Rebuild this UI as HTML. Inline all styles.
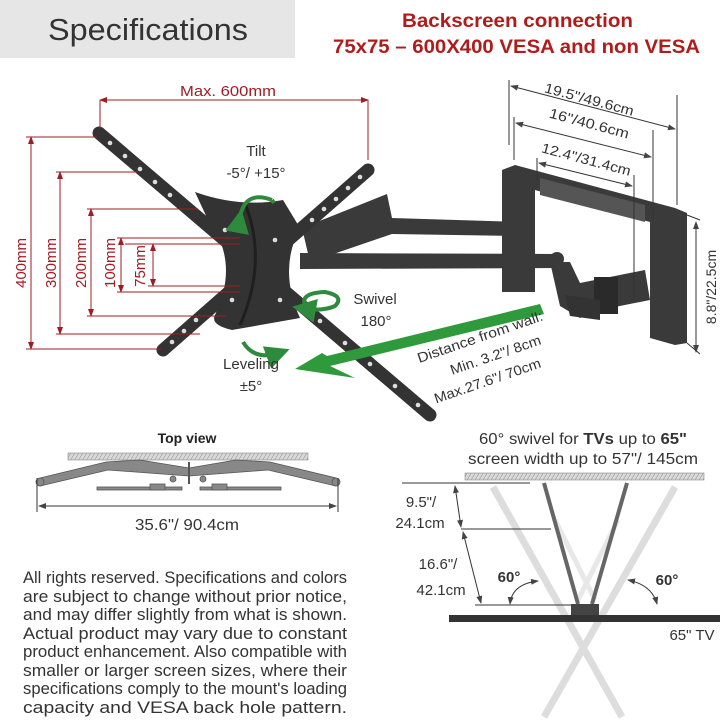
<!DOCTYPE html>
<html><head><meta charset="utf-8"><style>
html,body{margin:0;padding:0;background:#fff;}
svg{display:block;}
text{font-family:"Liberation Sans",sans-serif;}
</style></head><body>
<svg width="720" height="722" viewBox="0 0 720 722" xmlns="http://www.w3.org/2000/svg">
<defs>
<pattern id="hatch" width="4" height="8" patternUnits="userSpaceOnUse" patternTransform="skewX(-30)">
<rect width="4" height="8" fill="#d8d8d8"/><line x1="0" y1="0" x2="0" y2="8" stroke="#888" stroke-width="1"/>
</pattern>
<marker id="ar" markerWidth="8" markerHeight="8" refX="7" refY="4" orient="auto-start-reverse"><path d="M0,1 L8,4 L0,7 z" fill="#a01c24"/></marker>
<marker id="ag" markerWidth="8" markerHeight="8" refX="7" refY="4" orient="auto-start-reverse"><path d="M0,1 L8,4 L0,7 z" fill="#444"/></marker>
<marker id="gr" markerWidth="6" markerHeight="6" refX="4" refY="3" orient="auto"><path d="M0,0 L6,3 L0,6 z" fill="#2e8a3c"/></marker>
</defs>
<rect x="0" y="0" width="295" height="58" fill="#e6e6e6"/>
<text x="48" y="40" font-size="31" fill="#333" textLength="200" lengthAdjust="spacingAndGlyphs">Specifications</text>
<text x="402" y="27" font-size="19" fill="#b01c1c" font-weight="bold" textLength="231" lengthAdjust="spacingAndGlyphs">Backscreen connection</text>
<text x="333" y="53" font-size="19" fill="#b01c1c" font-weight="bold" textLength="367" lengthAdjust="spacingAndGlyphs">75x75 – 600X400 VESA and non VESA</text>

<!-- arm assembly -->
<g fill="#3a3a3a">
<polygon points="502,170 515,165 675,208 687,213 687,343 675,345 650,338 650,222 535,190 535,292 502,292"/>
<polygon points="540,178 645,205 645,222 540,195" fill="#555"/>
<polygon points="302,228 387,194 392,218 521,222 521,236 392,234 310,262"/>
<polygon points="300,253 558,254 562,268 300,269"/>
<circle cx="557" cy="259" r="7"/>
<polygon points="550,262 570,262 580,283 645,270 650,300 600,310 580,318 560,306"/>
<rect x="594" y="277" width="24" height="37" fill="#2a2a2a"/>
<polygon points="565,295 600,300 600,320 570,316" fill="#333"/>
</g>
<!-- plate -->
<g stroke="#333" stroke-linecap="round">
<line x1="99" y1="133" x2="430" y2="415" stroke-width="13"/>
<line x1="368" y1="170" x2="163" y2="350" stroke-width="13"/>
</g>
<path d="M195,192 Q240,208 283,200 L300,228 Q278,270 300,318 L232,330 Q210,325 215,315 Q240,262 208,220 Z" fill="#333"/>
<path d="M245,203 Q268,262 240,325" stroke="#1f1f1f" stroke-width="3" fill="none"/>
<g fill="#ddd">
<circle cx="110" cy="143" r="2.3"/><circle cx="125" cy="156" r="2.3"/><circle cx="140" cy="169" r="2.3"/><circle cx="155" cy="182" r="2.3"/><circle cx="170" cy="195" r="2.3"/>
<circle cx="360" cy="177" r="2.3"/><circle cx="348" cy="188" r="2.3"/><circle cx="336" cy="199" r="2.3"/><circle cx="324" cy="209" r="2.3"/><circle cx="312" cy="220" r="2.3"/>
<circle cx="172" cy="342" r="2.3"/><circle cx="184" cy="331" r="2.3"/><circle cx="196" cy="320" r="2.3"/>
<circle cx="320" cy="321" r="2.3"/><circle cx="345" cy="343" r="2.3"/><circle cx="370" cy="364" r="2.3"/><circle cx="395" cy="386" r="2.3"/><circle cx="418" cy="405" r="2.3"/>
<circle cx="225" cy="230" r="2.3"/><circle cx="232" cy="300" r="2.3"/><circle cx="275" cy="240" r="2.3"/><circle cx="280" cy="300" r="2.3"/>
</g>

<!-- red dims -->
<g stroke="#a01c24" stroke-width="1" fill="none">
<line x1="100" y1="100" x2="368" y2="100" marker-start="url(#ar)" marker-end="url(#ar)"/>
<line x1="100" y1="100" x2="100" y2="128"/><line x1="368" y1="100" x2="368" y2="160"/>
<line x1="31" y1="137" x2="31" y2="349" marker-start="url(#ar)" marker-end="url(#ar)"/>
<line x1="26" y1="137" x2="97" y2="137"/><line x1="26" y1="349" x2="161" y2="349"/>
<line x1="60" y1="172" x2="60" y2="334" marker-start="url(#ar)" marker-end="url(#ar)"/>
<line x1="56" y1="172" x2="138" y2="172"/><line x1="56" y1="334" x2="200" y2="334"/>
<line x1="91" y1="209" x2="91" y2="316" marker-start="url(#ar)" marker-end="url(#ar)"/>
<line x1="87" y1="209" x2="198" y2="209"/><line x1="87" y1="316" x2="226" y2="316"/>
<line x1="121" y1="238" x2="121" y2="292" marker-start="url(#ar)" marker-end="url(#ar)"/>
<line x1="117" y1="238" x2="240" y2="238"/><line x1="117" y1="292" x2="240" y2="292"/>
<line x1="153" y1="244" x2="153" y2="286" marker-start="url(#ar)" marker-end="url(#ar)"/>
<line x1="125" y1="244" x2="240" y2="244"/><line x1="148" y1="286" x2="240" y2="286"/>
</g>
<g fill="#a01c24" font-size="15">
<text x="180" y="96" textLength="96" lengthAdjust="spacingAndGlyphs">Max. 600mm</text>
<text transform="translate(26,263) rotate(-90)" text-anchor="middle">400mm</text>
<text transform="translate(56,263) rotate(-90)" text-anchor="middle">300mm</text>
<text transform="translate(86,263) rotate(-90)" text-anchor="middle">200mm</text>
<text transform="translate(115,263) rotate(-90)" text-anchor="middle">100mm</text>
<text transform="translate(145,266) rotate(-90)" text-anchor="middle">75mm</text>
</g>

<!-- gray dims -->
<g stroke="#333" stroke-width="1" fill="none">
<line x1="509" y1="80" x2="509" y2="145"/><line x1="677" y1="95" x2="677" y2="205"/>
<line x1="511" y1="86" x2="675" y2="129" marker-start="url(#ag)" marker-end="url(#ag)"/>
<line x1="514" y1="117" x2="514" y2="160"/><line x1="653" y1="130" x2="653" y2="220"/>
<line x1="516" y1="123" x2="651" y2="157" marker-start="url(#ag)" marker-end="url(#ag)"/>
<line x1="537" y1="158" x2="537" y2="180"/><line x1="634" y1="175" x2="634" y2="300"/>
<line x1="539" y1="163" x2="632" y2="186" marker-start="url(#ag)" marker-end="url(#ag)"/>
<line x1="696" y1="222" x2="696" y2="352" marker-start="url(#ag)" marker-end="url(#ag)"/>
<line x1="687" y1="215" x2="700" y2="220"/><line x1="687" y1="343" x2="700" y2="354"/>
</g>
<g fill="#333" font-size="14">
<text transform="translate(588,104) rotate(15)" text-anchor="middle" textLength="92" lengthAdjust="spacingAndGlyphs">19.5"/49.6cm</text>
<text transform="translate(588,128) rotate(15)" text-anchor="middle" textLength="82" lengthAdjust="spacingAndGlyphs">16"/40.6cm</text>
<text transform="translate(585,164) rotate(15)" text-anchor="middle" textLength="92" lengthAdjust="spacingAndGlyphs">12.4"/31.4cm</text>
<text transform="translate(716,287) rotate(-90)" text-anchor="middle">8.8"/22.5cm</text>
</g>

<!-- green -->
<polygon points="322,353 327,356 540,304 544,314 330,366 355,378 295,369" fill="#2e9a3c"/>
<g stroke="#2e8a3c" stroke-width="4" fill="none">
<path d="M240,217 Q245,190 272,200" marker-start="url(#gr)"/>
<path d="M272,200 l2,3"/>
<path d="M305,305 Q300,293 325,292 Q345,296 335,306 Q322,312 300,308" marker-end="url(#gr)"/>
<path d="M243,342 Q255,362 282,352" marker-end="url(#gr)"/>
</g>
<g fill="#333" font-size="15" text-anchor="middle">
<text x="256" y="156">Tilt</text><text x="256" y="178">-5°/ +15°</text>
<text x="375" y="304">Swivel</text><text x="376" y="326">180°</text>
<text x="251" y="369">Leveling</text><text x="251" y="391">±5°</text>
</g>
<g fill="#333" font-size="14" text-anchor="end">
<text transform="translate(544,320) rotate(-19)" textLength="132" lengthAdjust="spacingAndGlyphs">Distance from wall:</text>
<text transform="translate(542,344) rotate(-19)" textLength="95" lengthAdjust="spacingAndGlyphs">Min. 3.2"/ 8cm</text>
<text transform="translate(542,367) rotate(-19)" textLength="112" lengthAdjust="spacingAndGlyphs">Max.27.6"/ 70cm</text>
</g>

<!-- top view -->
<text x="187" y="443" font-size="14" font-weight="bold" fill="#222" text-anchor="middle">Top view</text>
<rect x="68" y="453" width="240" height="7" fill="url(#hatch)" stroke="#777" stroke-width="0.5"/>
<g stroke="#555" fill="#888" stroke-width="0.8">
<polygon points="40,478 106,462 140,460 189,468 236,460 270,462 336,478 336,486 268,470 189,476 108,470 40,486"/>
<rect x="97" y="487" width="85" height="3"/><rect x="200" y="487" width="81" height="3"/>
<rect x="150" y="484" width="15" height="6"/><rect x="212" y="484" width="15" height="6"/>
<line x1="189" y1="462" x2="189" y2="484" stroke-width="2"/>
<circle cx="40" cy="482" r="4"/><circle cx="336" cy="482" r="4"/><circle cx="173" cy="479" r="3"/><circle cx="203" cy="479" r="3"/>
</g>
<g stroke="#333" stroke-width="1">
<line x1="37" y1="478" x2="37" y2="512"/><line x1="338" y1="478" x2="338" y2="512"/>
<line x1="39" y1="506" x2="336" y2="506" marker-start="url(#ag)" marker-end="url(#ag)"/>
</g>
<text x="187" y="530" font-size="16" fill="#333" text-anchor="middle" textLength="104" lengthAdjust="spacingAndGlyphs">35.6"/ 90.4cm</text>

<g fill="#333" font-size="17">
<text x="23" y="583" textLength="324" lengthAdjust="spacingAndGlyphs">All rights reserved. Specifications and colors</text>
<text x="23" y="602" textLength="324" lengthAdjust="spacingAndGlyphs">are subject to change without prior notice,</text>
<text x="23" y="620" textLength="324" lengthAdjust="spacingAndGlyphs">and may differ slightly from what is shown.</text>
<text x="23" y="639" textLength="324" lengthAdjust="spacingAndGlyphs">Actual product may vary due to constant</text>
<text x="23" y="657" textLength="324" lengthAdjust="spacingAndGlyphs">product enhancement. Also compatible with</text>
<text x="23" y="676" textLength="324" lengthAdjust="spacingAndGlyphs">smaller or larger screen sizes, where their</text>
<text x="23" y="694" textLength="324" lengthAdjust="spacingAndGlyphs">specifications comply to the mount's loading</text>
<text x="23" y="713" textLength="324" lengthAdjust="spacingAndGlyphs">capacity and VESA back hole pattern.</text>
</g>

<!-- swivel diagram -->
<text x="479" y="444" font-size="16" fill="#333" textLength="208" lengthAdjust="spacingAndGlyphs">60° swivel for <tspan font-weight="bold">TVs</tspan> up to <tspan font-weight="bold">65"</tspan></text>
<text x="468" y="464" font-size="16" fill="#333" textLength="230" lengthAdjust="spacingAndGlyphs">screen width up to 57"/ 145cm</text>
<rect x="465" y="473" width="239" height="7" fill="url(#hatch)" stroke="#777" stroke-width="0.5"/>
<g stroke="#ddd" stroke-width="7">
<line x1="493" y1="487" x2="622" y2="717"/><line x1="675" y1="487" x2="544" y2="717"/>
</g>
<g stroke="#e8e8e8" stroke-width="5">
<line x1="555" y1="520" x2="595" y2="600"/><line x1="618" y1="520" x2="578" y2="600"/>
</g>
<g stroke="#666" stroke-width="4">
<line x1="544" y1="483" x2="578" y2="604"/><line x1="627" y1="483" x2="592" y2="604"/>
</g>
<rect x="571" y="604" width="28" height="12" fill="#444"/>
<rect x="449" y="615" width="271" height="7" fill="#333"/>
<g stroke="#333" stroke-width="1">
<line x1="402" y1="483" x2="530" y2="483"/><line x1="461" y1="529" x2="551" y2="529"/><line x1="475" y1="605" x2="571" y2="605"/>
<line x1="455" y1="486" x2="461" y2="527" marker-start="url(#ag)" marker-end="url(#ag)"/>
<line x1="463" y1="532" x2="481" y2="603" marker-start="url(#ag)" marker-end="url(#ag)"/>
</g>
<g fill="#333" font-size="15" text-anchor="middle">
<text x="421" y="507">9.5"/</text><text x="420" y="528">24.1cm</text>
<text x="438" y="569">16.6"/</text><text x="441" y="595">42.1cm</text>
<text x="692" y="640">65" TV</text>
</g>
<text x="509" y="582" font-size="15" font-weight="bold" fill="#333" text-anchor="middle">60°</text>
<text x="667" y="585" font-size="15" font-weight="bold" fill="#333" text-anchor="middle">60°</text>
<path d="M510,604 Q512,584 538,581" stroke="#333" fill="none" marker-start="url(#ag)" marker-end="url(#ag)"/>
<path d="M628,580 Q652,585 657,604" stroke="#333" fill="none" marker-start="url(#ag)" marker-end="url(#ag)"/>
</svg>
</body></html>
